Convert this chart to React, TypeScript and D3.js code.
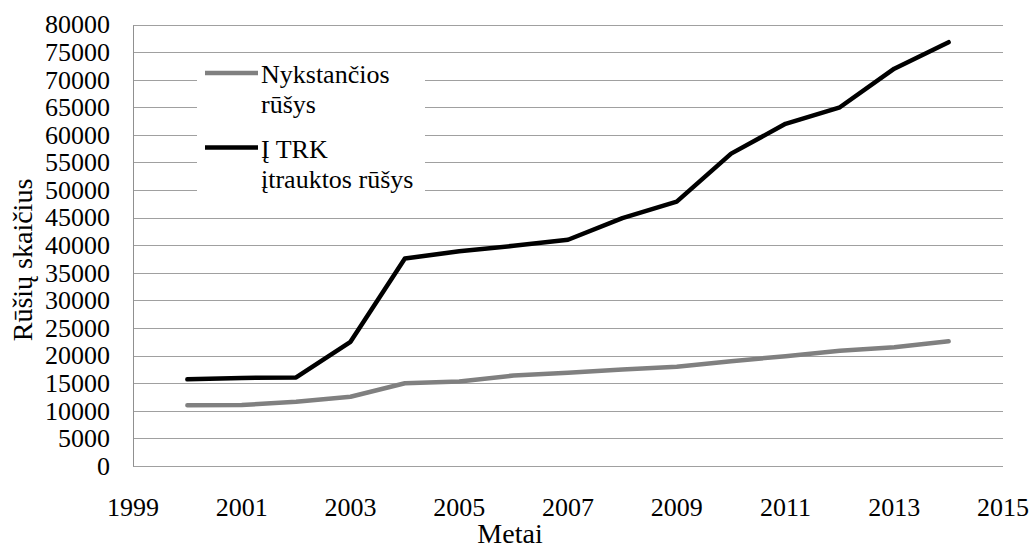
import { useEffect, useRef } from "react";
import * as d3 from "d3";

// Values
const years = [2000, 2001, 2002, 2003, 2004, 2005, 2006, 2007, 2008, 2009, 2010, 2011, 2012, 2013, 2014];
const endangered = [11000, 11050, 11650, 12550, 15000, 15300, 16400, 16900, 17500, 18000, 19000, 19900, 20900, 21500, 22600];
const redList = [15700, 15950, 16050, 22500, 37600, 38900, 39900, 41000, 44900, 47900, 56600, 62000, 65000, 72000, 76800];

const yTicks = d3.range(0, 80001, 5000);
const xTicks = [1999, 2001, 2003, 2005, 2007, 2009, 2011, 2013, 2015];

const legendItems = [
  { lines: ["Nykstančios", "rūšys"], color: "#808080" },
  { lines: ["Į TRK", "įtrauktos rūšys"], color: "#000000" },
];

const FONT = "Liberation Serif";

export default function App() {
  const svgRef = useRef<SVGSVGElement>(null);

  useEffect(() => {
    if (!svgRef.current) return;
    const svg = d3.select(svgRef.current);
    svg.selectAll("*").remove();

    const width = 1031;
    const height = 550;
    const margin = { top: 24.5, right: 28, bottom: 84, left: 133 };

    const x = d3.scaleLinear().domain([1999, 2015]).range([margin.left, width - margin.right]);
    const y = d3.scaleLinear().domain([0, 80000]).range([height - margin.bottom, margin.top]);

    // gridlines
    svg
      .append("g")
      .selectAll("line")
      .data(yTicks)
      .enter()
      .append("line")
      .attr("x1", margin.left)
      .attr("x2", width - margin.right)
      .attr("y1", (d) => Math.round(y(d)) + 0.5)
      .attr("y2", (d) => Math.round(y(d)) + 0.5)
      .attr("stroke", "#a0a0a0")
      .attr("stroke-width", 1);

    // left axis line
    svg
      .append("line")
      .attr("x1", margin.left + 0.5)
      .attr("x2", margin.left + 0.5)
      .attr("y1", Math.round(y(80000)) + 0.5)
      .attr("y2", Math.round(y(0)) + 0.5)
      .attr("stroke", "#909090");

    // y tick labels
    svg
      .append("g")
      .selectAll("text")
      .data(yTicks)
      .enter()
      .append("text")
      .attr("x", 110)
      .attr("y", (d) => y(d))
      .attr("dy", "0.34em")
      .attr("text-anchor", "end")
      .attr("font-family", FONT)
      .attr("font-size", 26)
      .attr("fill", "#000")
      .text((d) => String(d));

    // x tick labels
    svg
      .append("g")
      .selectAll("text")
      .data(xTicks)
      .enter()
      .append("text")
      .attr("x", (d) => x(d))
      .attr("y", 516)
      .attr("text-anchor", "middle")
      .attr("font-family", FONT)
      .attr("font-size", 26)
      .attr("fill", "#000")
      .text((d) => String(d));

    // axis titles
    svg
      .append("text")
      .attr("transform", "translate(32, 260) rotate(-90)")
      .attr("text-anchor", "middle")
      .attr("font-family", FONT)
      .attr("font-size", 28)
      .text("Rūšių skaičius");

    svg
      .append("text")
      .attr("x", 510)
      .attr("y", 543)
      .attr("text-anchor", "middle")
      .attr("font-family", FONT)
      .attr("font-size", 28)
      .text("Metai");

    // series lines
    const line = d3
      .line<number>()
      .x((_, i) => x(years[i]))
      .y((d) => y(d));

    [
      { values: endangered, color: "#808080" },
      { values: redList, color: "#000000" },
    ].forEach((s) => {
      svg
        .append("path")
        .attr("d", line(s.values))
        .attr("fill", "none")
        .attr("stroke", s.color)
        .attr("stroke-width", 4.5)
        .attr("stroke-linejoin", "round")
        .attr("stroke-linecap", "round");
    });

    // legend
    const legend = svg.append("g");
    legend
      .append("rect")
      .attr("x", 197)
      .attr("y", 58)
      .attr("width", 228)
      .attr("height", 146)
      .attr("fill", "#fff");

    legendItems.forEach((item, i) => {
      const top = 73 + i * 74.5;
      legend
        .append("line")
        .attr("x1", 205)
        .attr("x2", 258)
        .attr("y1", top)
        .attr("y2", top)
        .attr("stroke", item.color)
        .attr("stroke-width", 4.5);
      item.lines.forEach((t, j) => {
        legend
          .append("text")
          .attr("x", 261)
          .attr("y", top + 10 + j * 30)
          .attr("font-family", FONT)
          .attr("font-size", 26)
          .text(t);
      });
    });
  }, []);

  return (
    <svg
      ref={svgRef}
      width={1031}
      height={550}
      style={{ position: "absolute", left: 0, top: 0, background: "#fff" }}
    />
  );
}
